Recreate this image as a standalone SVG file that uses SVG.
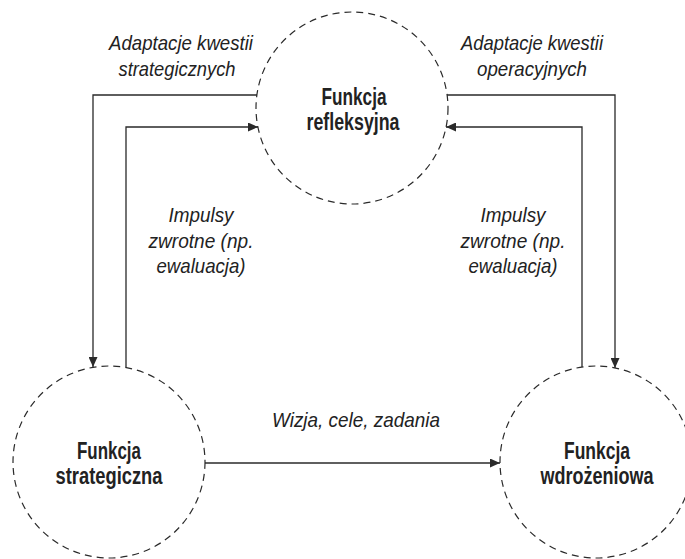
<svg xmlns="http://www.w3.org/2000/svg" width="685" height="559" viewBox="0 0 685 559">
<style>
.node{fill:none;stroke:#2a2a2a;stroke-width:1.2;stroke-dasharray:7 5}
.conn{fill:none;stroke:#2a2a2a;stroke-width:1.3}
.lbl{font-family:"Liberation Sans",Arial,sans-serif;font-style:italic;font-size:21px;fill:#222;text-anchor:middle}
.ttl{font-family:"Liberation Sans",Arial,sans-serif;font-weight:bold;font-size:23px;fill:#222;text-anchor:middle}
</style>
<defs>
<marker id="arr" markerUnits="userSpaceOnUse" markerWidth="10" markerHeight="9" refX="10" refY="4.5" orient="auto">
<path d="M0,0 L10,4.5 L0,9 z" fill="#2a2a2a"/>
</marker>
</defs>
<rect width="685" height="559" fill="#fff"/>
<g id="connectors">
<polyline class="conn" points="257,95 93,95 93,367" marker-end="url(#arr)"/>
<polyline class="conn" points="126,367 126,127 258,127" marker-end="url(#arr)"/>
<polyline class="conn" points="447,95 615,95 615,368" marker-end="url(#arr)"/>
<polyline class="conn" points="582,367 582,127 446,127" marker-end="url(#arr)"/>
<line class="conn" x1="205" y1="463" x2="500" y2="463" marker-end="url(#arr)"/>
</g>
<g id="labels">
<text class="lbl" x="181" y="50" textLength="144" lengthAdjust="spacingAndGlyphs">Adaptacje kwestii</text>
<text class="lbl" x="177" y="76" textLength="117" lengthAdjust="spacingAndGlyphs">strategicznych</text>
<text class="lbl" x="532" y="50" textLength="142" lengthAdjust="spacingAndGlyphs">Adaptacje kwestii</text>
<text class="lbl" x="532" y="76" textLength="110" lengthAdjust="spacingAndGlyphs">operacyjnych</text>
<text class="lbl" x="201" y="222" textLength="65" lengthAdjust="spacingAndGlyphs">Impulsy</text>
<text class="lbl" x="201" y="248" textLength="105" lengthAdjust="spacingAndGlyphs">zwrotne (np.</text>
<text class="lbl" x="201" y="273" textLength="89" lengthAdjust="spacingAndGlyphs">ewaluacja)</text>
<text class="lbl" x="513" y="222" textLength="65" lengthAdjust="spacingAndGlyphs">Impulsy</text>
<text class="lbl" x="513" y="248" textLength="105" lengthAdjust="spacingAndGlyphs">zwrotne (np.</text>
<text class="lbl" x="513" y="273" textLength="89" lengthAdjust="spacingAndGlyphs">ewaluacja)</text>
<text class="lbl" x="356" y="427" textLength="168" lengthAdjust="spacingAndGlyphs">Wizja, cele, zadania</text>
</g>
<g id="node-refleksyjna">
<circle class="node" cx="352" cy="108" r="96"/>
<text class="ttl" x="354" y="105" textLength="65" lengthAdjust="spacingAndGlyphs">Funkcja</text>
<text class="ttl" x="353" y="130" textLength="93" lengthAdjust="spacingAndGlyphs">refleksyjna</text>
</g>
<g id="node-strategiczna">
<circle class="node" cx="109" cy="462" r="96"/>
<text class="ttl" x="109" y="459" textLength="64" lengthAdjust="spacingAndGlyphs">Funkcja</text>
<text class="ttl" x="109" y="484" textLength="107" lengthAdjust="spacingAndGlyphs">strategiczna</text>
</g>
<g id="node-wdrozeniowa">
<circle class="node" cx="596" cy="462" r="96"/>
<text class="ttl" x="597" y="459" textLength="66" lengthAdjust="spacingAndGlyphs">Funkcja</text>
<text class="ttl" x="597" y="484" textLength="113" lengthAdjust="spacingAndGlyphs">wdrożeniowa</text>
</g>
</svg>
